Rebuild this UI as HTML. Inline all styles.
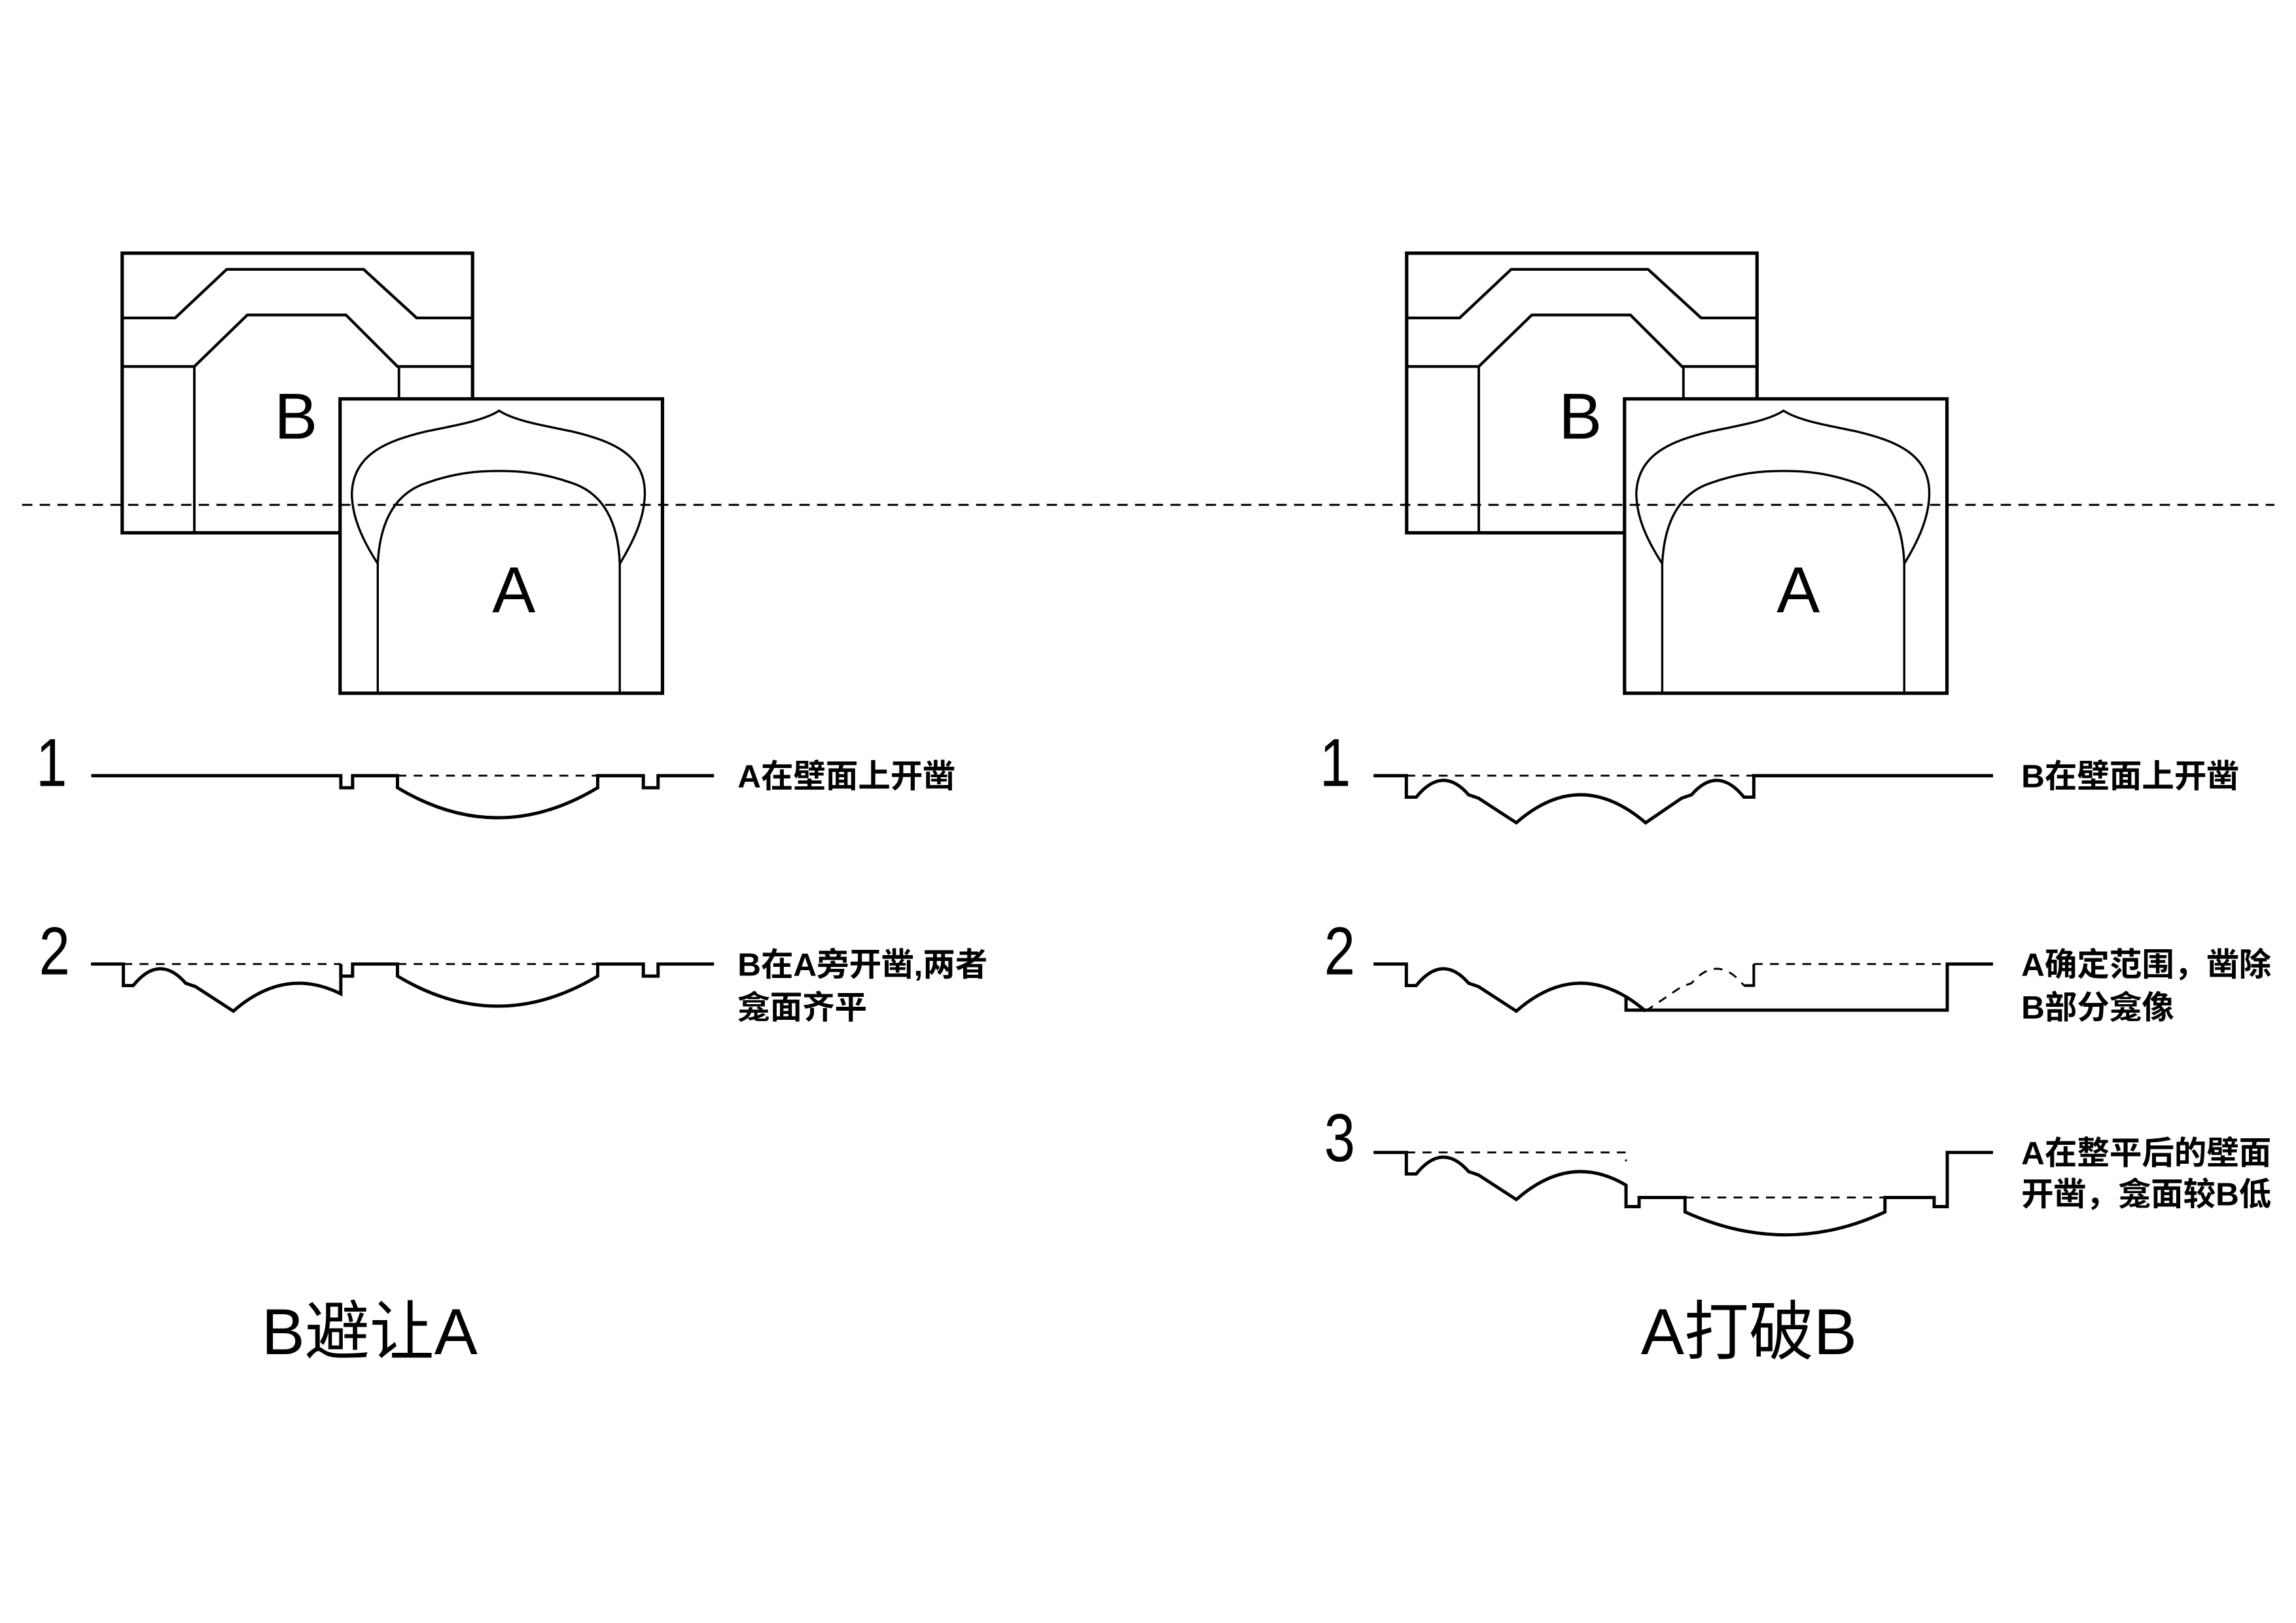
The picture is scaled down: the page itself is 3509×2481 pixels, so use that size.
<!DOCTYPE html>
<html><head><meta charset="utf-8"><style>
html,body{margin:0;padding:0;background:#fff;}
svg{display:block;}
.lab{font-family:"Liberation Sans","Noto Sans CJK SC",sans-serif;font-weight:bold;font-size:22px;}
.num{font-family:"Liberation Sans",sans-serif;font-size:42px;}
.big{font-family:"Liberation Sans",sans-serif;font-size:44px;}
.ttl{font-family:"Liberation Sans","Noto Sans CJK SC",sans-serif;font-size:44px;}
</style></head><body>
<svg width="3509" height="2481" viewBox="0 0 1559.6 1102.7" xmlns="http://www.w3.org/2000/svg">
<rect width="1559.6" height="1102.7" fill="#fff"/>
<g fill="none" stroke="#000" stroke-linejoin="miter">
<g>
  <rect x="83" y="172" width="238" height="190" stroke-width="2.3" fill="#fff"/>
  <polyline points="83,216 119,216 154,183 247,183 283,216 321,216" stroke-width="1.9"/>
  <polyline points="83,249 132,249 168,214 235,214 270,249 321,249" stroke-width="1.9"/>
  <line x1="132" y1="249" x2="132" y2="362" stroke-width="1.7"/>
  <line x1="271" y1="249" x2="271" y2="272" stroke-width="1.7"/>
  <rect x="231" y="271" width="219" height="200" stroke-width="2.3" fill="#fff"/>
  <path d="M256.6,383 C245,365 239,350 239,335 C240,310 260,300 290,293 C315,288 330,285 339,279 C348,285 363,288 388,293 C418,300 438,310 438,335 C438,350 432,365 421,383" stroke-width="1.5"/>
  <path d="M256.6,471 L256.6,383 C258,355 268,335 290,328 C310,321 325,320 339,320 C353,320 368,321 388,328 C410,335 420,355 421,383 L421,471" stroke-width="1.5"/>
</g>
<g transform="translate(872.5,0)">
  <rect x="83" y="172" width="238" height="190" stroke-width="2.3" fill="#fff"/>
  <polyline points="83,216 119,216 154,183 247,183 283,216 321,216" stroke-width="1.9"/>
  <polyline points="83,249 132,249 168,214 235,214 270,249 321,249" stroke-width="1.9"/>
  <line x1="132" y1="249" x2="132" y2="362" stroke-width="1.7"/>
  <line x1="271" y1="249" x2="271" y2="272" stroke-width="1.7"/>
  <rect x="231" y="271" width="219" height="200" stroke-width="2.3" fill="#fff"/>
  <path d="M256.6,383 C245,365 239,350 239,335 C240,310 260,300 290,293 C315,288 330,285 339,279 C348,285 363,288 388,293 C418,300 438,310 438,335 C438,350 432,365 421,383" stroke-width="1.5"/>
  <path d="M256.6,471 L256.6,383 C258,355 268,335 290,328 C310,321 325,320 339,320 C353,320 368,321 388,328 C410,335 420,355 421,383 L421,471" stroke-width="1.5"/>
</g>
<line x1="15" y1="343" x2="1545" y2="343" stroke-width="1.3" stroke-dasharray="7,5"/>

<g transform="translate(0,527)" stroke-width="2.2">
  <path d="M62,0 L231.5,0 L231.5,8.2 L239.5,8.2 L239.5,0 L270,0 L270,8.2 Q338,49 406,8.2 L406,0 L437,0 L437,8.2 L447,8.2 L447,0 L485,0"/>
  <line x1="270" y1="0" x2="406" y2="0" stroke-width="1.3" stroke-dasharray="6,5"/>
</g>
<g transform="translate(0,655)" stroke-width="2.2">
  <g transform="translate(83.8,0)">
    <path d="M-22,0 L0,0 L0,14.6 L6.7,14.6 Q24.5,-7.4 42.3,13 L49,15.3 L74.7,32 Q109.7,1.26 147.7,20.25 L147.7,0"/>
    <line x1="0" y1="0" x2="147.7" y2="0" stroke-width="1.3" stroke-dasharray="6,5"/>
  </g>
  <path d="M231.5,0 L231.5,8.2 L239.5,8.2 L239.5,0 L270,0 L270,8.2 Q338,49 406,8.2 L406,0 L437,0 L437,8.2 L447,8.2 L447,0 L485,0"/>
  <line x1="270" y1="0" x2="406" y2="0" stroke-width="1.3" stroke-dasharray="6,5"/>
</g>

<g transform="translate(955.3,527)" stroke-width="2.2">
  <path d="M-22.3,0 L0,0 L0,14.6 L6.7,14.6 Q24.5,-7.4 42.3,13 L49,15.3 L74.7,32 Q118,-6 162.5,32 L187,15.3 L193.7,13 Q211.5,-7.4 229.3,14.6 L236,14.6 L236,0 L398.5,0"/>
  <line x1="0" y1="0" x2="236" y2="0" stroke-width="1.3" stroke-dasharray="6,5"/>
</g>
<g transform="translate(955.3,655)" stroke-width="2.2">
  <path d="M-22.3,0 L0,0 L0,14.6 L6.7,14.6 Q24.5,-7.4 42.3,13 L49,15.3 L74.7,32 Q111.4,-0.24 149.2,22.23 L149.2,31.3 L367.4,31.3 L367.4,0 L398.5,0"/>
  <path d="M149.2,22.23 Q155.8,26.2 162.5,32" />
  <path d="M162.5,32 L187,15.3 L193.7,13 Q211.5,-7.4 229.3,14.6" stroke-width="1.3" stroke-dasharray="6,5"/>
  <path d="M229.3,14.6 L236,14.6 L236,0" stroke-width="1.8"/>
  <line x1="236" y1="0" x2="367.4" y2="0" stroke-width="1.3" stroke-dasharray="6,5"/>
</g>
<g transform="translate(955.3,783)" stroke-width="2.2">
  <path d="M-22.3,0 L0,0 L0,14.6 L6.7,14.6 Q24.5,-7.4 42.3,13 L49,15.3 L74.7,32 Q111.4,-0.24 149.2,22.23 L149.2,36.8 L158.1,36.8 L158.1,30.6 L189.3,30.6 L189.3,40.4 Q258.3,71.6 325.1,40.4 L325.1,30.6 L358.5,30.6 L358.5,36.8 L367.4,36.8 L367.4,0 L398.5,0"/>
  <path d="M0,0 L149.2,0 L149.2,6" stroke-width="1.3" stroke-dasharray="6,5"/>
  <line x1="189.3" y1="30.6" x2="325.1" y2="30.6" stroke-width="1.3" stroke-dasharray="6,5"/>
</g>
</g>

<g fill="#000">
<text class="big" x="201" y="298" text-anchor="middle">B</text>
<text class="big" x="349" y="416" text-anchor="middle">A</text>
<text class="big" x="1073.5" y="298" text-anchor="middle">B</text>
<text class="big" x="1221.5" y="416" text-anchor="middle">A</text>

<g transform="translate(35,534) scale(0.9,1.1)"><text class="num" x="0" y="0" text-anchor="middle">1</text></g>
<g transform="translate(37,662) scale(0.9,1.1)"><text class="num" x="0" y="0" text-anchor="middle">2</text></g>
<g transform="translate(907,534) scale(0.9,1.1)"><text class="num" x="0" y="0" text-anchor="middle">1</text></g>
<g transform="translate(910,662) scale(0.9,1.1)"><text class="num" x="0" y="0" text-anchor="middle">2</text></g>
<g transform="translate(910,789) scale(0.9,1.1)"><text class="num" x="0" y="0" text-anchor="middle">3</text></g>

<text class="lab" x="501" y="535">A在壁面上开凿</text>
<text class="lab" x="501" y="663">B在A旁开凿,两者</text>
<text class="lab" x="501" y="692">龛面齐平</text>
<text class="lab" x="1373" y="535">B在壁面上开凿</text>
<text class="lab" x="1373" y="663">A确定范围，凿除</text>
<text class="lab" x="1373" y="692">B部分龛像</text>
<text class="lab" x="1373" y="791">A在整平后的壁面</text>
<text class="lab" x="1373" y="819">开凿，龛面较B低</text>

<text class="ttl" x="251" y="920" text-anchor="middle">B避让A</text>
<text class="ttl" x="1188" y="920" text-anchor="middle">A打破B</text>
</g>
</svg>
</body></html>
